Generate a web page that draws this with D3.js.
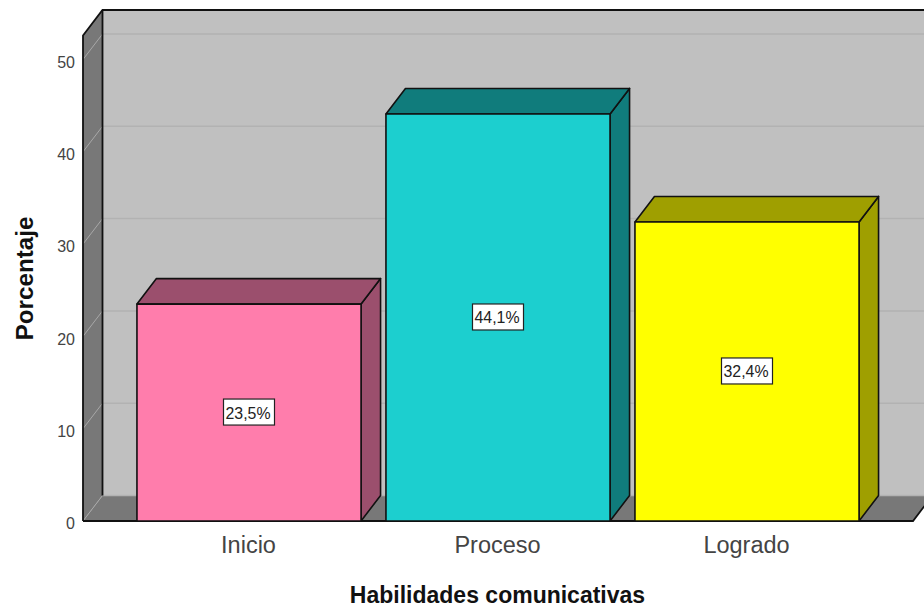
<!DOCTYPE html>
<html lang="en">
<head>
<meta charset="UTF-8">
<title>Habilidades comunicativas</title>
<script src="https://cdn.jsdelivr.net/npm/d3@7"></script>
<style>
  html, body { margin: 0; padding: 0; background: #fff; }
  text { font-family: "Liberation Sans", Arial, sans-serif; }
</style>
</head>
<body>
<div id="root"></div>
<script>
var categories = ['Inicio', 'Proceso', 'Logrado']
var values = [23.5, 44.1, 32.4]
var valueLabels = ['23,5%', '44,1%', '32,4%']
var barColors = ['#ff7dac', '#1ccfcf', '#ffff00']
var sideColors = ['#9b4f6d', '#107c7c', '#9f9f00']
var yTicks = [0, 10, 20, 30, 40, 50]

var width = 924
var height = 610
// how far the back wall sits from the front plane
var depthX = 19.5
var depthY = -25.5
var wallLeft = 83
var wallRight = 913
var wallTop = 35.5

var svg = d3.select('#root').append('svg')
    .attr('width', width)
    .attr('height', height)
    .style('display', 'block')

var x = d3.scaleBand()
    .domain(categories)
    .range([124.5, 871.5])
    .paddingInner(0.1)
    .paddingOuter(0.05)

var y = d3.scaleLinear()
    .domain([0, 50])
    .range([521, 59.5])

function poly(points, fill, stroke) {
    return svg.append('polygon')
        .attr('points', points.map(function(p) { return p.join(',') }).join(' '))
        .attr('fill', fill)
        .attr('stroke', stroke || 'none')
        .attr('stroke-width', 1.6)
        .attr('stroke-linejoin', 'round')
}

// back wall, left wall, floor
var bottom = y(0)
poly([[wallLeft + depthX, wallTop + depthY], [width + 5, wallTop + depthY], [width + 5, bottom + depthY], [wallLeft + depthX, bottom + depthY]], '#c0c0c0')
poly([[wallLeft, wallTop], [wallLeft + depthX, wallTop + depthY], [wallLeft + depthX, bottom + depthY], [wallLeft, bottom]], '#787878')
poly([[wallLeft, bottom], [wallLeft + depthX, bottom + depthY], [wallRight + depthX, bottom + depthY], [wallRight, bottom]], '#787878')

// gridlines on the walls
yTicks.forEach(function(t) {
    svg.append('line')
        .attr('x1', wallLeft + depthX).attr('x2', width)
        .attr('y1', y(t) + depthY).attr('y2', y(t) + depthY)
        .attr('stroke', '#b2b2b2').attr('stroke-width', 1.5)
    svg.append('line')
        .attr('x1', wallLeft).attr('x2', wallLeft + depthX)
        .attr('y1', y(t)).attr('y2', y(t) + depthY)
        .attr('stroke', '#a8a8a8').attr('stroke-width', 1)
})

// wall outlines
svg.append('path')
    .attr('d', 'M' + wallLeft + ',' + bottom + 'V' + wallTop + 'L' + (wallLeft + depthX) + ',' + (wallTop + depthY) + 'H' + width)
    .attr('fill', 'none').attr('stroke', '#111').attr('stroke-width', 1.8)
svg.append('line')
    .attr('x1', wallLeft + depthX).attr('x2', wallLeft + depthX)
    .attr('y1', wallTop + depthY).attr('y2', bottom + depthY)
    .attr('stroke', '#111').attr('stroke-width', 1.8)
svg.append('path')
    .attr('d', 'M' + wallLeft + ',' + bottom + 'H' + wallRight + 'L' + (wallRight + depthX) + ',' + (bottom + depthY))
    .attr('fill', 'none').attr('stroke', '#111').attr('stroke-width', 1.8)

// bars
categories.forEach(function(c, i) {
    var x0 = x(c)
    var x1 = x0 + x.bandwidth()
    var top = y(values[i])
    poly([[x1, top], [x1 + depthX, top + depthY], [x1 + depthX, bottom + depthY], [x1, bottom]], sideColors[i], '#111')
    poly([[x0, top], [x0 + depthX, top + depthY], [x1 + depthX, top + depthY], [x1, top]], sideColors[i], '#111')
    poly([[x0, top], [x1, top], [x1, bottom], [x0, bottom]], barColors[i], '#111')
})

// value labels in boxes
categories.forEach(function(c, i) {
    var cx = x(c) + x.bandwidth() / 2
    var cy = y(values[i] / 2) - 0.5
    svg.append('rect')
        .attr('x', cx - 25.5).attr('y', cy - 13)
        .attr('width', 51).attr('height', 26)
        .attr('fill', '#fff').attr('stroke', '#222').attr('stroke-width', 1.2)
    svg.append('text')
        .attr('x', cx - 1).attr('y', cy + 6.5)
        .attr('text-anchor', 'middle')
        .attr('font-size', 16.5)
        .attr('textLength', 45)
        .attr('lengthAdjust', 'spacingAndGlyphs')
        .attr('fill', '#222')
        .text(valueLabels[i])
})

// axes
var yAxis = d3.axisLeft(y).tickValues(yTicks).tickSize(0).tickPadding(8)
var yG = svg.append('g').attr('transform', 'translate(' + wallLeft + ',0)').call(yAxis)
yG.select('.domain').remove()
yG.selectAll('text')
    .attr('dy', '0.48em')
    .attr('font-size', 16).attr('fill', '#444')
    .style('font-family', '"Liberation Sans", Arial, sans-serif')

var xAxis = d3.axisBottom(x).tickSize(0).tickPadding(15)
var xG = svg.append('g').attr('transform', 'translate(-0.5,' + bottom + ')').call(xAxis)
xG.select('.domain').remove()
xG.selectAll('text').attr('font-size', 23.5).attr('fill', '#444').style('font-family', '"Liberation Sans", Arial, sans-serif')

svg.append('text')
    .attr('x', 497.5).attr('y', 603)
    .attr('text-anchor', 'middle')
    .attr('font-size', 23)
    .attr('font-weight', 'bold')
    .attr('fill', '#111')
    .text('Habilidades comunicativas')

svg.append('text')
    .attr('transform', 'translate(33,278.5) rotate(-90)')
    .attr('text-anchor', 'middle')
    .attr('font-size', 24.2)
    .attr('font-weight', 'bold')
    .attr('fill', '#111')
    .text('Porcentaje')
</script>
</body>
</html>
